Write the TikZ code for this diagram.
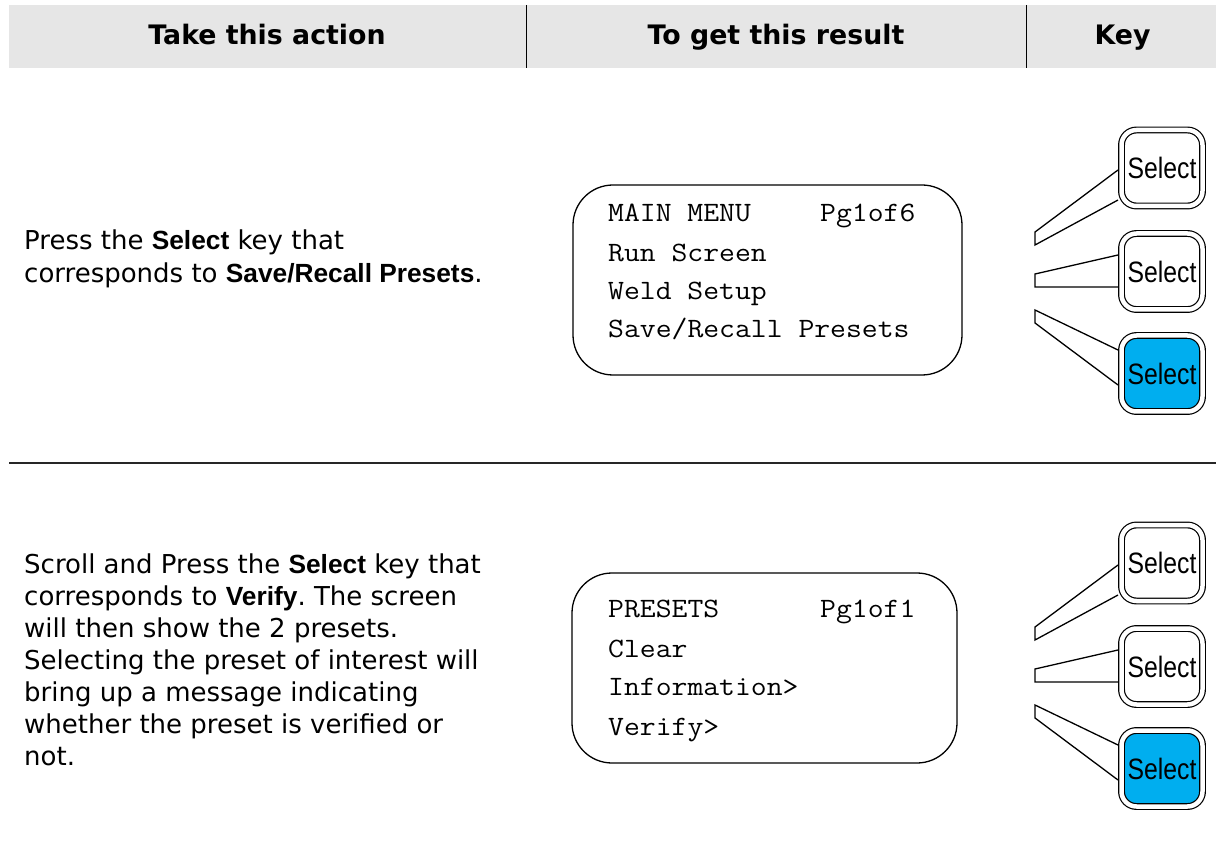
\documentclass[tikz,border=0pt]{standalone}
\usepackage{fontspec}
\usepackage{graphicx}
\setmainfont{DejaVu Sans}
\setmonofont{Latin Modern Mono}[FakeStretch=1.1]
\newfontfamily\arialfont{Liberation Sans}
\usetikzlibrary{calc}
\frenchspacing
\definecolor{keyblue}{RGB}{0,174,239}
\definecolor{hdrgray}{RGB}{230,230,230}
\newcommand{\bsel}[1]{{\arialfont\bfseries\fontsize{26.3}{32}\selectfont #1}}
\newcommand{\keylabel}{\scalebox{0.84}[1]{Select}}
\tikzset{
  hdr/.style={font=\bfseries\fontsize{26.8}{30}\selectfont, inner sep=0pt, anchor=base},
  body/.style={font=\fontsize{26}{32}\selectfont, inner sep=0pt, anchor=base west},
  scrtxt/.style={font=\ttfamily\fontsize{28}{30}\selectfont, inner sep=0pt, anchor=base west},
  screen/.style={draw, line width=1.3pt, rounded corners=40pt, inner sep=0pt},
  keybtn/.style={draw, line width=1.2pt, double=white, double distance=4.5pt,
    rounded corners=15pt, minimum width=81pt, minimum height=76pt, inner sep=0pt,
    font=\arialfont\fontsize{29.5}{29.5}\selectfont},
  keyon/.style={keybtn, fill=keyblue},
  wedge/.style={line width=1.3pt, line join=miter},
  rule/.style={line width=1pt},
}
\begin{document}
\begin{tikzpicture}[x=1pt,y=-1pt]
\useasboundingbox (0,0) rectangle (1216,858);
% header
\fill[hdrgray] (9,5) rectangle (1216,68);
\draw[rule] (526,5) -- (526,68);
\draw[rule] (1026,5) -- (1026,68);
\node[hdr] (h1) at (267,45) {Take this action};
\node[hdr] (h2) at (776,45) {To get this result};
\node[hdr] (h3) at (1122.5,45) {Key};
% separator
\draw[line width=2pt, black!85] (9,463) -- (1216,463);
% row 1 text
\node[body] (t1a) at (24,250) {Press the \bsel{Select} key that};
\node[body] (t1b) at (24,283) {corresponds to \bsel{Save/Recall Presets}.};
% row 1 screen
\node[screen, minimum width=389pt, minimum height=190pt] (scr1) at (767.5,280) {};
\node[scrtxt] (s1a) at (608,222) {MAIN MENU};
\node[scrtxt] (s1p) at (820,222) {Pg1of6};
\node[scrtxt] (s1b) at (608,262) {Run Screen};
\node[scrtxt] (s1c) at (608,300) {Weld Setup};
\node[scrtxt] (s1d) at (608,338) {Save/Recall Presets};
% row 2 text
\node[body] (t2a) at (24,573) {Scroll and Press the \bsel{Select} key that};
\node[body] (t2b) at (24,605) {corresponds to \bsel{Verify}. The screen};
\node[body] (t2c) at (24,637) {will then show the 2 presets.};
\node[body] (t2d) at (24,669) {Selecting the preset of interest will};
\node[body] (t2e) at (24,701) {bring up a message indicating};
\node[body] (t2f) at (24,733) {whether the preset is verified or};
\node[body] (t2g) at (24,765) {not.};
% row 2 screen
\node[screen, minimum width=385pt, minimum height=190pt] (scr2) at (764.5,668) {};
\node[scrtxt] (s2a) at (608,617) {PRESETS};
\node[scrtxt] (s2p) at (820,617) {Pg1of1};
\node[scrtxt] (s2b) at (608,657) {Clear};
\node[scrtxt] (s2c) at (608,695) {Information>};
\node[scrtxt] (s2d) at (608,735) {Verify>};
% keys
\foreach \g/\dy in {a/0,b/395}{
  \node[keybtn] (\g1) at (1162,168+\dy) {\keylabel};
  \node[keybtn] (\g2) at (1162,271.5+\dy) {\keylabel};
  \node[keyon]  (\g3) at (1162,373.5+\dy) {\keylabel};
  \draw[wedge] ($(\g1.center)+(-44,2)$) -- ($(\g1.center)+(-127,64)$)
     -- ($(\g1.center)+(-127,77)$) -- ($(\g1.center)+(-44,32)$);
  \draw[wedge] ($(\g2.center)+(-44,-16.5)$) -- ($(\g2.center)+(-127,2.5)$)
     -- ($(\g2.center)+(-127,15.5)$) -- ($(\g2.center)+(-44,15.5)$);
  \draw[wedge] ($(\g3.center)+(-44,-23.5)$) -- ($(\g3.center)+(-127,-63.5)$)
     -- ($(\g3.center)+(-127,-50.5)$) -- ($(\g3.center)+(-44,11.5)$);
}
\end{tikzpicture}
\end{document}
